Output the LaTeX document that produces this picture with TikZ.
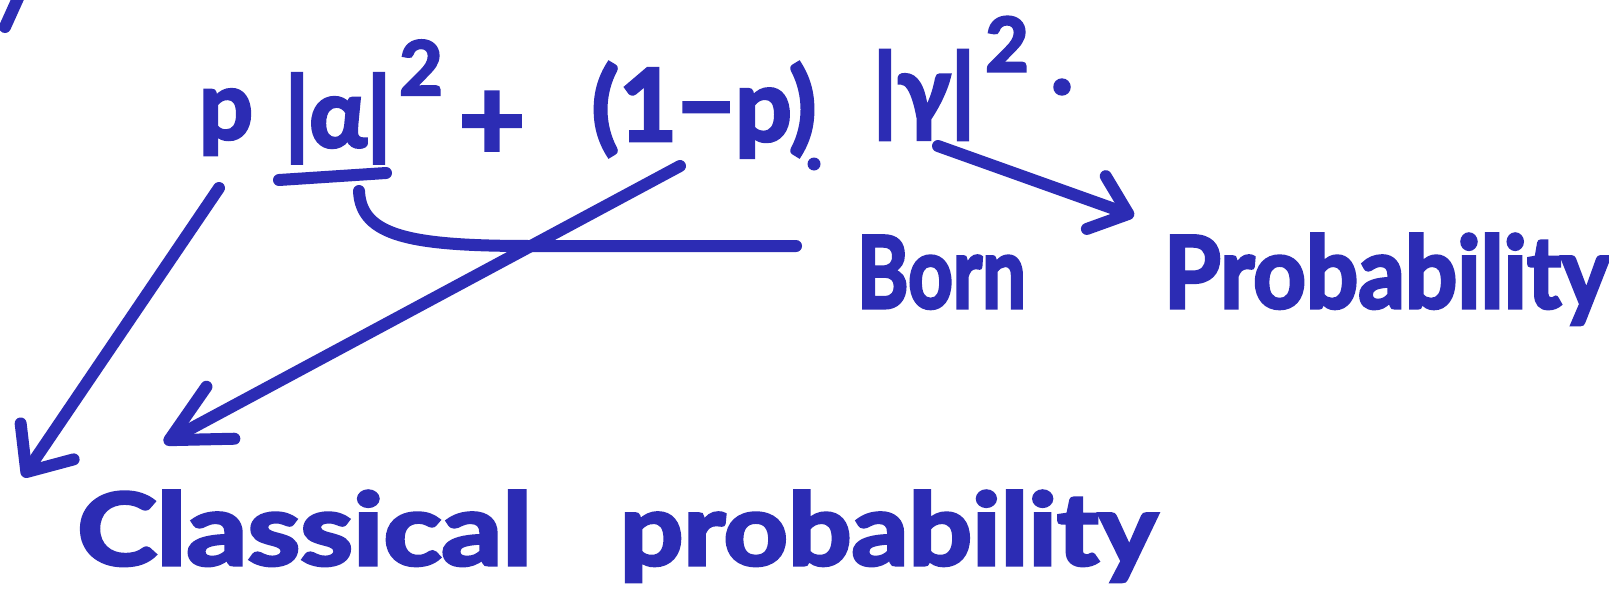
\documentclass[tikz,border=0pt]{standalone}
\usepackage{fontspec}
\setmainfont{Lato}[BoldFeatures={FakeBold=3.2}]
\usepackage{graphicx}
\usetikzlibrary{arrows.meta}
\definecolor{inkc}{RGB}{44,44,180}
\begin{document}
\begin{tikzpicture}[x=1pt,y=-1pt,
  ink/.style={draw=inkc, line width=12pt, line cap=round, line join=round},
  txt/.style={text=inkc, inner sep=0pt, font=\bfseries\fontsize{95}{95}\selectfont},
  suptxt/.style={txt, font=\bfseries\fontsize{75}{75}\selectfont},
  lbl/.style={txt, font=\bfseries\fontsize{100}{100}\selectfont}]
\useasboundingbox (0,0) rectangle (1609,589);
\fill[white] (0,0) rectangle (1609,589);
% formula
\node[txt, anchor=base] (pterm) at (226,139) {p};
\node[txt, anchor=base] (absA) at (338,147) {|α|};
\node[suptxt, anchor=base] (supA) at (421,95) {2};
\node[txt, anchor=center, font=\bfseries\fontsize{115}{115}\selectfont] (plus) at (492,126) {+};
\node[txt, anchor=center, font=\bfseries\fontsize{100}{100}\selectfont] (onemp) at (704,110) {(1−p)};
\node[txt, anchor=center] (absG) at (924,95) {|γ|};
\node[suptxt, anchor=center] (supG) at (1007,44) {2};
\node[txt, anchor=center] (period) at (1062,87) {.};
% labels
\node[lbl, anchor=base west] (born) at (857,308) {\scalebox{0.78}[1]{Born}\hspace{138pt}\scalebox{0.92}[1]{Probability}};
\node[lbl, anchor=base west] (classical) at (77,565) {\scalebox{1.2}[1]{Classical}\hspace{88pt}\scalebox{1.12}[1]{probability}};
% marks
\draw[ink] (5,27) -- (19,-4);
\fill[inkc] (814,164) circle (6.5);
\draw[ink] ([shift={(-59,33)}]absA.base) -- ([shift={(48,26)}]absA.base);
% connectors
\draw[ink] ([shift={(21,44)}]absA.base) .. controls (361,236) and (410,246) .. (530,246) -- ([shift={(-61,-62)}]born.base west);
\draw[ink, -{Straight Barb[length=37pt,width=64pt,round]}] ([shift={(-7,49)}]pterm.base) -- ([shift={(-54,-88)}]classical.base west);
\draw[ink, -{Straight Barb[length=58pt,width=59pt,round]}] ([shift={(-24,56)}]onemp.center) -- ([shift={(87,-122)}]classical.base west);
\draw[ink, -{Straight Barb[length=34pt,width=56pt,round]}] ([shift={(14,51)}]absG.center) -- ([shift={(277,-92)}]born.base west);
\end{tikzpicture}
\end{document}
